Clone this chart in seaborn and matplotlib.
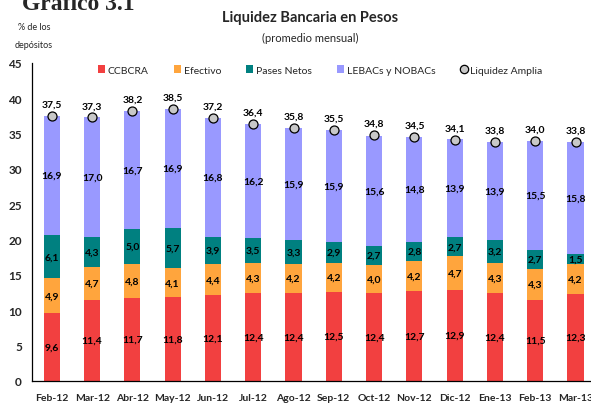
import matplotlib
matplotlib.use("Agg")
import matplotlib.pyplot as plt
import seaborn as sns
import pandas as pd
import numpy as np
from matplotlib.patches import Patch
from matplotlib.lines import Line2D

sns.set_theme(style="white")
plt.rcParams['font.family'] = ['Lato', 'DejaVu Sans']

months = ["Feb-12", "Mar-12", "Abr-12", "May-12", "Jun-12", "Jul-12", "Ago-12",
          "Sep-12", "Oct-12", "Nov-12", "Dic-12", "Ene-13", "Feb-13", "Mar-13"]
ccbcra = [9.6, 11.4, 11.7, 11.8, 12.1, 12.4, 12.4, 12.5, 12.4, 12.7, 12.9, 12.4, 11.5, 12.3]
efectivo = [4.9, 4.7, 4.8, 4.1, 4.4, 4.3, 4.2, 4.2, 4.0, 4.2, 4.7, 4.3, 4.3, 4.2]
pases = [6.1, 4.3, 5.0, 5.7, 3.9, 3.5, 3.3, 2.9, 2.7, 2.8, 2.7, 3.2, 2.7, 1.5]
lebacs = [16.9, 17.0, 16.7, 16.9, 16.8, 16.2, 15.9, 15.9, 15.6, 14.8, 13.9, 13.9, 15.5, 15.8]
amplia = [37.5, 37.3, 38.2, 38.5, 37.2, 36.4, 35.8, 35.5, 34.8, 34.5, 34.1, 33.8, 34.0, 33.8]

names = ["CCBCRA", "Efectivo", "Pases Netos", "LEBACs y NOBACs"]
colors = ["#F24040", "#FFA53D", "#008080", "#9999FF"]

df = pd.DataFrame({"mes": months, "CCBCRA": ccbcra, "Efectivo": efectivo,
                   "Pases Netos": pases, "LEBACs y NOBACs": lebacs, "amplia": amplia})
cum = df[names].cumsum(axis=1)
bottoms = cum - df[names]

def fmt(v):
    return f"{v:.1f}".replace(".", ",")

fig = plt.figure(figsize=(5.91, 4.06), dpi=100)
ax = fig.add_axes([31.7 / 591, 24.3 / 406, 564 / 591, 317.7 / 406])

# stacked bars: draw cumulative totals from the top layer down
for name, col in reversed(list(zip(names, colors))):
    sns.barplot(x=df["mes"], y=cum[name], color=col, width=0.40,
                saturation=1, ax=ax, linewidth=0)

# segment labels
for name in names:
    for i in range(len(months)):
        mid = bottoms[name][i] + df[name][i] / 2
        ax.text(i, mid, fmt(df[name][i]), ha="center", va="center",
                fontsize=7.5, fontweight="bold", color="black")

# Liquidez Amplia markers
x = np.arange(len(months))
ax.scatter(x, df["amplia"], s=42, color="#C8C8C8", edgecolor="black",
           linewidth=0.9, zorder=5)
for i, v in enumerate(df["amplia"]):
    ax.text(i, v + 1.0, fmt(v), ha="center", va="bottom", fontsize=7.5,
            fontweight="bold", color="black")

ax.set_xlim(-0.5, len(months) - 0.5)
ax.set_ylim(0, 45)
ax.set_yticks(range(0, 46, 5))
ax.set_xticks(x)
ax.set_xticklabels(months, fontsize=7.5, fontweight="bold")
ax.set_yticklabels([str(t) for t in range(0, 46, 5)], fontsize=8.5, fontweight="bold")
ax.set_xlabel("")
ax.set_ylabel("")
ax.tick_params(axis="x", which="major", length=0, pad=9)
ax.set_xticks(x[:-1] + 0.5, minor=True)
ax.tick_params(axis="x", which="minor", direction="in", length=5, width=0.8, color="black")
ax.tick_params(axis="y", direction="in", length=5, width=0.8, color="black", pad=7)
for s in ["top", "right"]:
    ax.spines[s].set_visible(False)
for s in ["left", "bottom"]:
    ax.spines[s].set_color("black")
    ax.spines[s].set_linewidth(0.9)

handles = [Patch(facecolor=c, edgecolor="none") for c in colors]
handles.append(Line2D([], [], marker="o", linestyle="none", markersize=6,
                      markerfacecolor="#C8C8C8", markeredgecolor="black", markeredgewidth=0.9))
fig.legend(handles, names + ["Liquidez Amplia"], loc="center left",
           bbox_to_anchor=(98 / 591, 1 - 71 / 406), ncol=5, frameon=False,
           fontsize=7.5, handlelength=0.7, handleheight=0.7, handletextpad=0.25,
           columnspacing=2.4, borderpad=0, borderaxespad=0)

fig.text(310 / 591, 1 - 18 / 406, "Liquidez Bancaria en Pesos", ha="center",
         va="center", fontsize=10.5, fontweight="bold")
fig.text(310 / 591, 1 - 38 / 406, "(promedio mensual)", ha="center",
         va="center", fontsize=8)
fig.text(34 / 591, 1 - 28 / 406, "% de los", ha="center", va="center", fontsize=6.5)
fig.text(34 / 591, 1 - 45 / 406, "depósitos", ha="center", va="center", fontsize=6.5)
fig.text(22 / 591, 1 - 10 / 406, "Gráfico 3.1", ha="left", va="baseline",
         fontsize=17, fontweight="bold", family=["Liberation Serif", "DejaVu Serif"])

fig.savefig("out.png", dpi=100)
